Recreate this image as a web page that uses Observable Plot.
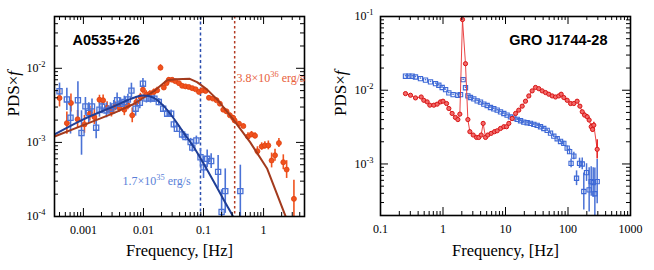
<!DOCTYPE html>
<html><head><meta charset="utf-8">
<script src="https://cdn.jsdelivr.net/npm/d3@7"></script>
<script src="https://cdn.jsdelivr.net/npm/@observablehq/plot@0.6"></script>
<style>
body{margin:0;background:#fff;}
#wrap{display:flex;width:654px;height:270px;}
</style></head><body><div id="wrap"></div>
<script>
// ---------- Left panel: A0535+26 ----------
const aBlueF = [0.00040,0.00053,0.00061,0.00081,0.00093,0.00108,0.00123,0.00139,0.00163,0.00185,0.00205,0.00242,0.00282,0.0032,0.00364,0.00414,0.0048,0.0055,0.0063,0.0074,0.0087,0.0098,0.0112,0.0131,0.0152,0.018,0.0213,0.0248,0.0289,0.032,0.036,0.044,0.050,0.061,0.065,0.076,0.089,0.10,0.115,0.134,0.175,0.20,0.23,0.41];
const aBlueV = [4.9e-3,3.8e-3,2.15e-3,3.7e-3,1.34e-3,3.06e-3,2.49e-3,3.06e-3,1.58e-3,2.76e-3,3.06e-3,2.7e-3,2.85e-3,3.06e-3,3.7e-3,3.33e-3,3.5e-3,3.8e-3,5.0e-3,2.85e-3,3.43e-3,6.2e-3,3.9e-3,3.9e-3,3.9e-3,3.5e-3,2.85e-3,2.44e-3,2.44e-3,1.75e-3,1.53e-3,1.28e-3,1.18e-3,1.01e-3,8.5e-4,1.06e-3,6.3e-4,4.6e-4,6.0e-4,5.6e-4,4.0e-4,1.15e-4,2.2e-4,2.2e-4];
const aBlueErr = [0.11,0.15,0.22,0.25,0.3,0.12,0.14,0.1,0.15,0.1,0.1,0.1,0.08,0.08,0.1,0.08,0.08,0.07,0.1,0.1,0.08,0.07,0.06,0.06,0.05,0.05,0.05,0.05,0.05,0.05,0.05,0.06,0.05,0.05,0.06,0.06,0.12,0.15,0.12,0.1,0.22,0.3,0.3,0.35];

const aRedF = [0.00040,0.00053,0.00062,0.00080,0.00104,0.00128,0.00152,0.00185,0.00213,0.00248,0.00293,0.0034,0.00398,0.0048,0.0055,0.0065,0.0076,0.0089,0.0098,0.0111,0.0128,0.0149,0.0169,0.0192,0.0218,0.0242,0.0264,0.030,0.034,0.039,0.044,0.050,0.057,0.065,0.074,0.084,0.095,0.108,0.123,0.143,0.165,0.187,0.213,0.242,0.275,0.31,0.33,0.39,0.46,0.55,0.63,0.72,0.79,0.93,1.05,1.2,1.36,1.55,1.8,2.13,2.42,3.2];
const aRedV = [3.97e-3,1.82e-3,3.4e-3,2.05e-3,1.75e-3,2.44e-3,2.2e-3,3.77e-3,3.7e-3,2.94e-3,2.65e-3,3.06e-3,2.94e-3,2.76e-3,3.16e-3,2.32e-3,3.5e-3,4.1e-3,5.15e-3,4.45e-3,4.55e-3,4.8e-3,5.05e-3,1.02e-2,5.5e-3,6.3e-3,7.0e-3,7.0e-3,6.7e-3,6.3e-3,5.8e-3,5.7e-3,5.6e-3,5.4e-3,5.2e-3,4.8e-3,5.05e-3,4.94e-3,4.0e-3,3.9e-3,3.7e-3,3.33e-3,2.76e-3,2.62e-3,2.32e-3,2.15e-3,1.98e-3,1.79e-3,1.66e-3,1.2e-3,1.28e-3,1.23e-3,7.6e-4,8.8e-4,9.1e-4,9.1e-4,5.7e-4,6.7e-4,9.8e-4,5.4e-4,4.3e-4,1.73e-4];
const aRedErr = [0.12,0.15,0.12,0.12,0.12,0.1,0.1,0.06,0.07,0.08,0.08,0.06,0.06,0.08,0.06,0.1,0.06,0.05,0.06,0.05,0.04,0.04,0.04,0.04,0.03,0.03,0.03,0.02,0.02,0.02,0.02,0.02,0.02,0.02,0.02,0.02,0.02,0.02,0.03,0.02,0.03,0.03,0.03,0.03,0.03,0.03,0.04,0.03,0.03,0.05,0.04,0.04,0.06,0.05,0.05,0.06,0.1,0.08,0.06,0.1,0.12,0.25];

const aBlueModelF = [0.00033,0.001,0.0032,0.0069,0.0095,0.0149,0.022,0.032,0.047,0.069,0.1,0.15,0.22,0.31,0.4];
const aBlueModelV = [1.28e-3,2.05e-3,3.06e-3,4.0e-3,4.3e-3,4.0e-3,3.06e-3,2.1e-3,1.34e-3,8.6e-4,5.2e-4,2.9e-4,1.64e-4,1.0e-4,6.5e-5];
const aRedModelF = [0.00033,0.001,0.0032,0.0069,0.0105,0.0149,0.0247,0.035,0.059,0.078,0.115,0.17,0.25,0.36,0.6,1.15,2.3,3.0];
const aRedModelV = [1.2e-3,1.71e-3,2.48e-3,3.3e-3,4.1e-3,4.9e-3,6.9e-3,7.1e-3,7.2e-3,6.5e-3,5.15e-3,3.77e-3,2.57e-3,1.75e-3,1.0e-3,4.4e-4,1.03e-4,6e-5];
const aBlueBreak = [0.089];
const aRedBreak = [0.33];

const aXTicks = [0.001,0.01,0.1,1];
const aXTickLabels = ["0.001","0.01","0.1","1"];
const aYTicks = [1e-4,1e-3,1e-2];
const aYTickLabels = ["10^-4","10^-3","10^-2"];
const aTitle = "A0535+26";
const aRedNote = "3.8×10^36 erg/s";
const aBlueNote = "1.7×10^35 erg/s";

// ---------- Right panel: GRO J1744-28 ----------
const gBlueF = [0.251,0.284,0.321,0.363,0.436,0.525,0.631,0.759,0.858,0.97,1.10,1.24,1.45,1.73,1.91,2.10,2.29,2.5,2.75,3.11,3.52,3.98,4.50,5.09,5.75,6.5,7.36,8.32,9.4,10.6,12.0,13.6,15.4,17.4,19.6,22.2,25.1,28.4,32.1,36.3,41.0,46.4,52.5,59.3,67.1,75.9,85.7,97,106,112,124,137,153,169,179,198,218,235,253,269,293];
const gBlueV = [1.55e-2,1.55e-2,1.55e-2,1.51e-2,1.44e-2,1.37e-2,1.30e-2,1.23e-2,1.17e-2,1.09e-2,1.02e-2,9.2e-3,8.7e-3,8.55e-3,8.7e-3,1.39e-2,1.08e-2,8.37e-3,7.96e-3,7.64e-3,7.18e-3,6.89e-3,6.47e-3,6.2e-3,5.83e-3,5.6e-3,5.37e-3,5.09e-3,4.84e-3,4.59e-3,4.36e-3,4.19e-3,4.02e-3,3.85e-3,3.7e-3,3.62e-3,3.55e-3,3.44e-3,3.33e-3,3.2e-3,3.03e-3,2.85e-3,2.62e-3,2.39e-3,2.2e-3,2.02e-3,1.9e-3,1.64e-3,1.47e-3,1.02e-3,1.28e-3,6.4e-4,1.02e-3,1.0e-3,4.23e-4,7.64e-4,4.45e-4,5.77e-4,5.6e-4,3.94e-4,5.77e-4];
const gBlueErr = [0.01,0.01,0.01,0.01,0.01,0.01,0.01,0.01,0.01,0.01,0.01,0.01,0.01,0.01,0.01,0.01,0.01,0.01,0.01,0.01,0.01,0.01,0.01,0.01,0.01,0.01,0.01,0.01,0.01,0.01,0.015,0.015,0.015,0.015,0.015,0.015,0.015,0.015,0.015,0.015,0.015,0.015,0.02,0.02,0.02,0.02,0.03,0.03,0.04,0.06,0.05,0.1,0.07,0.08,0.25,0.12,0.3,0.2,0.2,0.35,0.3];

const gRedF = [0.251,0.302,0.363,0.448,0.493,0.558,0.616,0.713,0.807,0.912,1.0,1.14,1.24,1.40,1.58,1.73,1.86,2.05,2.29,2.5,2.69,3.04,3.44,3.74,4.08,4.39,4.79,5.21,5.9,6.67,7.36,8.32,9.4,10.4,11.3,12.8,14.5,16.3,18.5,20.9,23.6,26.7,30.2,34.1,38.6,43.7,49.3,55.8,63.1,71.3,77.8,85.7,97,110,124,140,155,169,184,203,218,235,247,259,293];
const gRedV = [9.0e-3,8.55e-3,7.87e-3,8.1e-3,7.3e-3,6.95e-3,6.27e-3,6.27e-3,6.47e-3,6.95e-3,7.1e-3,6.6e-3,5.65e-3,4.84e-3,4.27e-3,4.0e-3,4.74e-3,9.1e-2,2.29e-2,4.0e-3,2.74e-3,2.47e-3,2.29e-3,2.29e-3,2.47e-3,3.55e-3,2.29e-3,2.47e-3,2.6e-3,2.74e-3,2.82e-3,3.03e-3,3.2e-3,3.2e-3,3.55e-3,4.14e-3,4.84e-3,5.37e-3,6.08e-3,7.1e-3,8.37e-3,9.8e-3,1.09e-2,1.05e-2,9.8e-3,9.3e-3,8.83e-3,8.37e-3,8.1e-3,8.37e-3,8.83e-3,7.96e-3,7.3e-3,6.6e-3,6.6e-3,7.1e-3,6.08e-3,5.1e-3,4.6e-3,4.36e-3,3.94e-3,3.2e-3,2.94e-3,3.36e-3,1.58e-3];
const gRedErr = [0.015,0.015,0.015,0.015,0.015,0.015,0.015,0.015,0.015,0.015,0.015,0.015,0.015,0.015,0.015,0.015,0.015,0.01,0.01,0.015,0.02,0.02,0.02,0.02,0.02,0.02,0.02,0.02,0.02,0.02,0.015,0.015,0.015,0.015,0.015,0.015,0.015,0.015,0.015,0.015,0.015,0.015,0.015,0.015,0.015,0.015,0.015,0.015,0.015,0.015,0.015,0.015,0.015,0.02,0.02,0.02,0.02,0.02,0.03,0.03,0.03,0.04,0.04,0.04,0.13];

const gXTicks = [0.1,1,10,100,1000];
const gXTickLabels = ["0.1","1","10","100","1000"];
const gYTicks = [1e-3,1e-2,1e-1];
const gYTickLabels = ["10^-3","10^-2","10^-1"];
const gTitle = "GRO J1744-28";

const xTitle = "Frequency, [Hz]";
const yTitle = "PDS×*f*";

// ---------- helpers ----------
const SERIF = "'Liberation Serif','Times New Roman',serif";
const SANS = "'Liberation Sans',Arial,sans-serif";

function withErr(F, V, E) {
  return F.map((f, i) => ({f, v: V[i], lo: V[i] * Math.pow(10, -E[i]), hi: V[i] * Math.pow(10, E[i])}));
}
function decadeTicks(lo, hi, mults) {
  const out = [];
  for (let e = Math.floor(Math.log10(lo)) - 1; e <= Math.ceil(Math.log10(hi)); e++)
    for (const m of mults) { const v = m * Math.pow(10, e); if (v >= lo * 0.999 && v <= hi * 1.001) out.push(v); }
  return out;
}
function frameTicks(xd, yd, iw, ih) {
  const mx = decadeTicks(xd[0], xd[1], [1]), nx = decadeTicks(xd[0], xd[1], [2,3,4,5,6,7,8,9]);
  const my = decadeTicks(yd[0], yd[1], [1]), ny = decadeTicks(yd[0], yd[1], [2,3,4,5,6,7,8,9]);
  const L = 8, l = 4, s = {stroke: "#000", strokeWidth: 1};
  return [
    Plot.ruleX(mx, {...s, insetTop: ih - L}), Plot.ruleX(mx, {...s, insetBottom: ih - L}),
    Plot.ruleX(nx, {...s, insetTop: ih - l}), Plot.ruleX(nx, {...s, insetBottom: ih - l}),
    Plot.ruleY(my, {...s, insetRight: iw - L}), Plot.ruleY(my, {...s, insetLeft: iw - L}),
    Plot.ruleY(ny, {...s, insetRight: iw - l}), Plot.ruleY(ny, {...s, insetLeft: iw - l})
  ];
}
function labelMap(ticks, labels) { const m = new Map(ticks.map((t, i) => [t, labels[i]])); return d => m.get(d); }

function rich(svg) {
  const NS = "http://www.w3.org/2000/svg";
  svg.querySelectorAll("text").forEach(t => {
    if (t.querySelector("tspan")) return;
    const s = t.textContent;
    if (!/[\^*]/.test(s)) return;
    const parts = s.split(/(\^[^\s]+|\*[^*]+\*)/);
    t.textContent = "";
    let up = false;
    parts.forEach(p => {
      if (!p) return;
      const ts = document.createElementNS(NS, "tspan");
      if (p[0] === "^") { ts.textContent = p.slice(1); ts.setAttribute("font-size", "70%"); ts.setAttribute("dy", "-0.6em"); up = true; }
      else if (p[0] === "*") { ts.textContent = p.slice(1, -1); ts.setAttribute("font-style", "italic"); if (up) { ts.setAttribute("dy", "0.42em"); up = false; } }
      else { ts.textContent = p; if (up) { ts.setAttribute("dy", "0.42em"); up = false; } }
      t.appendChild(ts);
    });
  });
}

// ---------- left plot ----------
const H = 270;
const L = {w: 330, ml: 54, mr: 26, mt: 16, mb: 54, xd: [3.3e-4, 4.8], yd: [1e-4, 0.05]};
const Liw = L.w - L.ml - L.mr, Lih = H - L.mt - L.mb;
const aBlue = withErr(aBlueF, aBlueV, aBlueErr);
const aRed = withErr(aRedF, aRedV, aRedErr);
const aBlueModel = aBlueModelF.map((f, i) => ({f, v: aBlueModelV[i]}));
const aRedModel = aRedModelF.map((f, i) => ({f, v: aRedModelV[i]}));

const left = Plot.plot({
  width: L.w, height: H, marginLeft: L.ml, marginRight: L.mr, marginTop: L.mt, marginBottom: L.mb,
  style: {fontFamily: SERIF, fontSize: "12px", background: "#fff", color: "#000", overflow: "visible"},
  x: {type: "log", domain: L.xd},
  y: {type: "log", domain: L.yd},
  marks: [
    Plot.ruleX(aBlueBreak, {stroke: "#2b4eae", strokeWidth: 1.5, strokeDasharray: "3,2.5"}),
    Plot.ruleX(aRedBreak, {stroke: "#b23a22", strokeWidth: 1.5, strokeDasharray: "2.5,2.5"}),
    Plot.ruleX(aRed, {x: "f", y1: "lo", y2: "hi", stroke: "#f0521e", strokeWidth: 1.6, clip: true}),
    Plot.ruleX(aBlue, {x: "f", y1: "lo", y2: "hi", stroke: "#4a72d6", strokeWidth: 1.6, clip: true}),
    Plot.dot(aRed, {x: "f", y: "v", r: 2.5, fill: "#f0521e", stroke: "#e0400e", strokeWidth: 0.8, clip: true}),
    Plot.dot(aBlue, {x: "f", y: "v", symbol: "square", r: 2.9, fill: "none", stroke: "#4a72d6", strokeWidth: 1.3, clip: true}),
    Plot.line(aRedModel, {x: "f", y: "v", stroke: "#a33a1d", strokeWidth: 2, clip: true}),
    Plot.line(aBlueModel, {x: "f", y: "v", stroke: "#1f3e96", strokeWidth: 2, curve: "catmull-rom", clip: true}),
    Plot.axisX({ticks: aXTicks, tickFormat: labelMap(aXTicks, aXTickLabels), tickSize: 0, tickPadding: 9, label: null, fontSize: 12}),
    Plot.axisY({ticks: aYTicks, tickFormat: labelMap(aYTicks, aYTickLabels), tickSize: 0, tickPadding: 9, label: null, fontSize: 12}),
    ...frameTicks(L.xd, L.yd, Liw, Lih),
    Plot.frame({stroke: "#000", strokeWidth: 1.6}),
    Plot.text([aTitle], {frameAnchor: "top-left", dx: 18, dy: 18, textAnchor: "start", lineAnchor: "top", fontFamily: SANS, fontWeight: "bold", fontSize: 14.5, fill: "#000"}),
    Plot.text([aRedNote], {frameAnchor: "top-left", dx: 182, dy: 62, textAnchor: "start", lineAnchor: "middle", fontSize: 12, fill: "#e8613c"}),
    Plot.text([aBlueNote], {frameAnchor: "top-left", dx: 68, dy: 165, textAnchor: "start", lineAnchor: "middle", fontSize: 12, fill: "#5a7fd8"}),
    Plot.text([xTitle], {frameAnchor: "bottom", dy: 34, lineAnchor: "middle", fontSize: 16.5, fill: "#000"}),
    Plot.text([yTitle], {frameAnchor: "left", dx: -41, rotate: -90, lineAnchor: "middle", fontSize: 17, fill: "#000"})
  ]
});

// ---------- right plot ----------
const R = {w: 324, ml: 50, mr: 24, mt: 16, mb: 55, xd: [0.1, 1000], yd: [2e-4, 0.1]};
const Riw = R.w - R.ml - R.mr, Rih = H - R.mt - R.mb;
const gBlue = withErr(gBlueF, gBlueV, gBlueErr);
const gRed = withErr(gRedF, gRedV, gRedErr);

const right = Plot.plot({
  width: R.w, height: H, marginLeft: R.ml, marginRight: R.mr, marginTop: R.mt, marginBottom: R.mb,
  style: {fontFamily: SERIF, fontSize: "12px", background: "#fff", color: "#000", overflow: "visible"},
  x: {type: "log", domain: R.xd},
  y: {type: "log", domain: R.yd},
  marks: [
    Plot.ruleX(gBlue, {x: "f", y1: "lo", y2: "hi", stroke: "#4a72d6", strokeWidth: 1.5, clip: true}),
    Plot.dot(gBlue, {x: "f", y: "v", symbol: "square", r: 2.4, fill: "none", stroke: "#3d68d6", strokeWidth: 1.1, clip: true}),
    Plot.line(gRed, {x: "f", y: "v", stroke: "#e83030", strokeWidth: 0.9, clip: true}),
    Plot.ruleX(gRed, {x: "f", y1: "lo", y2: "hi", stroke: "#e31a1a", strokeWidth: 1.5, clip: true}),
    Plot.dot(gRed, {x: "f", y: "v", r: 2.1, fill: "#f26a6a", stroke: "#d81414", strokeWidth: 1, clip: true}),
    Plot.axisX({ticks: gXTicks, tickFormat: labelMap(gXTicks, gXTickLabels), tickSize: 0, tickPadding: 9, label: null, fontSize: 12}),
    Plot.axisY({ticks: gYTicks, tickFormat: labelMap(gYTicks, gYTickLabels), tickSize: 0, tickPadding: 7, label: null, fontSize: 12}),
    ...frameTicks(R.xd, R.yd, Riw, Rih),
    Plot.frame({stroke: "#000", strokeWidth: 1.6}),
    Plot.text([gTitle], {frameAnchor: "top-right", dx: -23, dy: 18, textAnchor: "end", lineAnchor: "top", fontFamily: SANS, fontWeight: "bold", fontSize: 14.5, fill: "#000"}),
    Plot.text([xTitle], {frameAnchor: "bottom", dy: 35, lineAnchor: "middle", fontSize: 16.5, fill: "#000"}),
    Plot.text([yTitle], {frameAnchor: "left", dx: -40, rotate: -90, lineAnchor: "middle", fontSize: 17, fill: "#000"})
  ]
});

rich(left); rich(right);
const wrap = document.getElementById("wrap");
wrap.appendChild(left); wrap.appendChild(right);
</script>
</body></html>
